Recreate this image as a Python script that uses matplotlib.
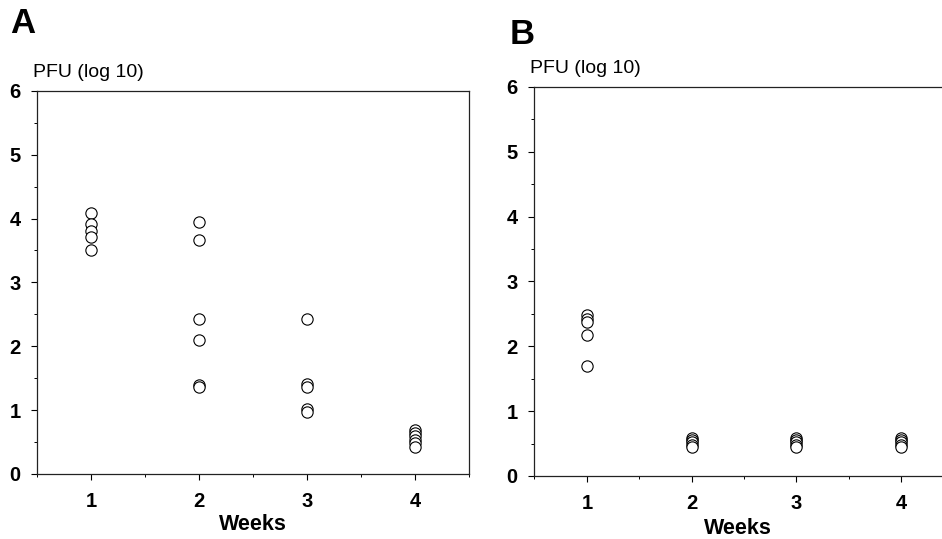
import matplotlib.pyplot as plt
from matplotlib.ticker import MultipleLocator

plt.rcParams['font.family'] = ['Liberation Sans', 'DejaVu Sans']

# panel A: PFU (log 10) per week
a_weeks = [1] * 5 + [2] * 6 + [3] * 5 + [4] * 6
a_pfu = [4.09, 3.92, 3.81, 3.71, 3.50,
         3.95, 3.66, 2.42, 2.10, 1.40, 1.36,
         2.42, 1.41, 1.36, 1.02, 0.97,
         0.69, 0.64, 0.59, 0.54, 0.48, 0.43]

# panel B
b_weeks = [1] * 5 + [2] * 5 + [3] * 5 + [4] * 5
b_pfu = [2.49, 2.42, 2.37, 2.18, 1.70,
         0.58, 0.55, 0.52, 0.48, 0.45,
         0.58, 0.55, 0.52, 0.48, 0.45,
         0.58, 0.55, 0.52, 0.48, 0.45]

week_ticks = [1, 2, 3, 4]

fig = plt.figure(figsize=(9.42, 5.39), dpi=100)
ax_a = fig.add_axes([0.0398, 0.1206, 0.458, 0.711])
ax_b = fig.add_axes([0.5674, 0.1169, 0.4326, 0.7217])


def style(ax, xmax, xlab_pad):
    ax.set_xlim(0.5, xmax)
    ax.set_ylim(0, 6)
    ax.set_xticks(week_ticks)
    ax.set_yticks(range(0, 7))
    ax.xaxis.set_minor_locator(MultipleLocator(0.5))
    ax.yaxis.set_minor_locator(MultipleLocator(0.5))
    ax.tick_params(axis='both', which='major', direction='out', length=4,
                   width=0.8, labelsize=14.5)
    ax.tick_params(axis='x', which='major', pad=9)
    ax.tick_params(axis='y', which='major', pad=8)
    ax.tick_params(axis='both', which='minor', direction='out', length=2.5,
                   width=0.7)
    for lab in ax.get_xticklabels() + ax.get_yticklabels():
        lab.set_fontweight('bold')
    for s in ax.spines.values():
        s.set_linewidth(0.9)
        s.set_color('#222222')
    ax.set_xlabel('Weeks', fontsize=15.5, fontweight='bold', labelpad=xlab_pad)
    ax.text(-0.01, 1.025, 'PFU (log 10)', transform=ax.transAxes,
            fontsize=14, ha='left', va='bottom')


ax_a.scatter(a_weeks, a_pfu, s=66, facecolors='white', edgecolors='black',
             linewidths=0.8, zorder=3, clip_on=False)
ax_b.scatter(b_weeks, b_pfu, s=66, facecolors='white', edgecolors='black',
             linewidths=0.8, zorder=3, clip_on=False)

style(ax_a, 4.5, 2)
style(ax_b, 4.39, 3.5)
ax_b.spines['right'].set_visible(False)

fig.text(0.011, 0.925, 'A', fontsize=25, fontweight='bold', ha='left', va='bottom')
fig.text(0.541, 0.905, 'B', fontsize=25, fontweight='bold', ha='left', va='bottom')

fig.savefig('out.png', dpi=100)
